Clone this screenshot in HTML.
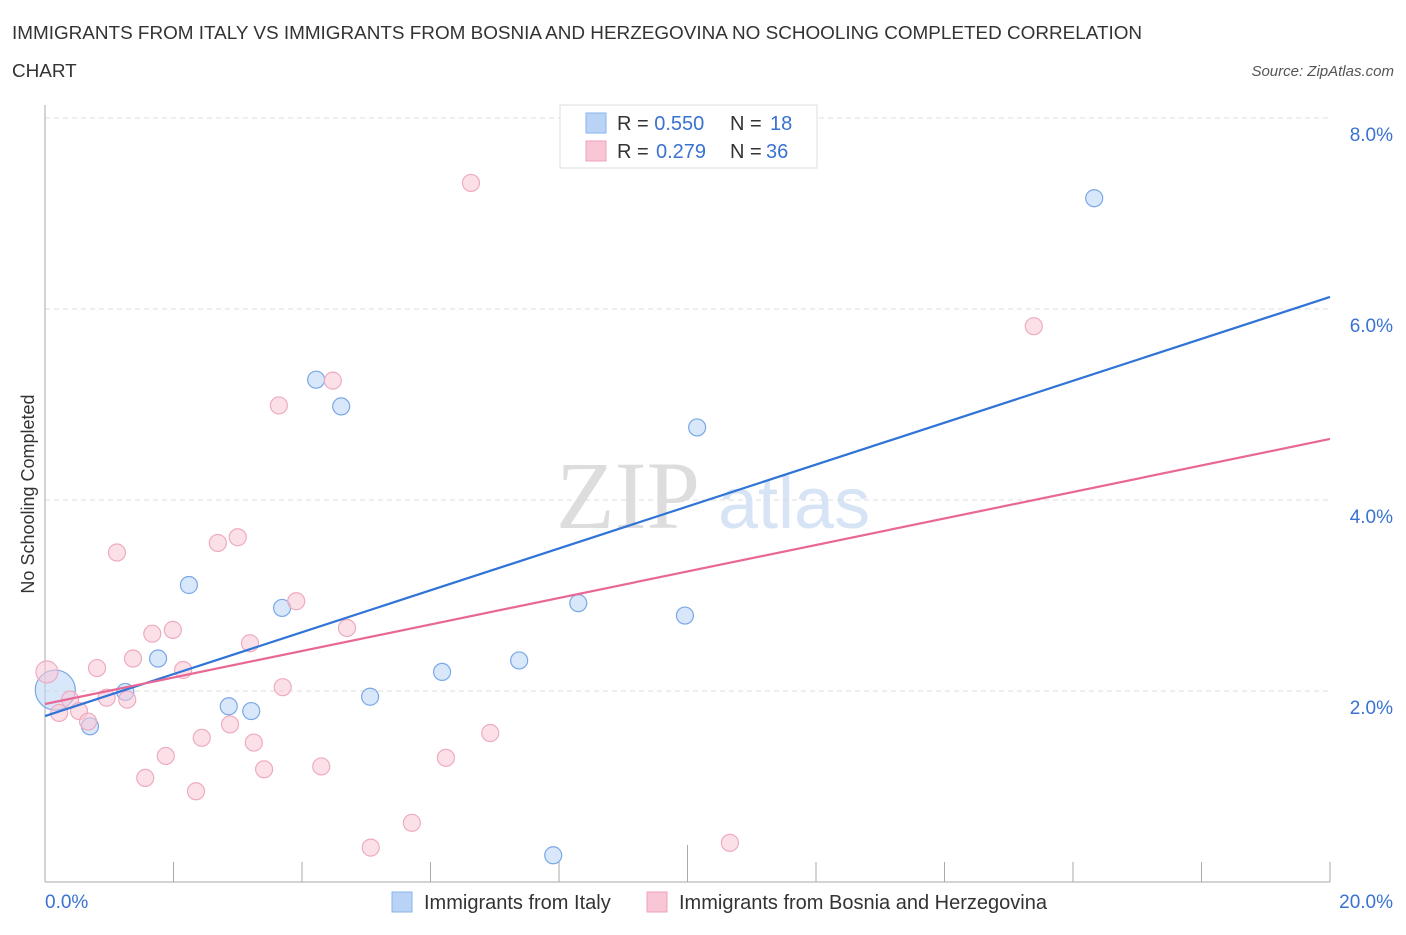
<!DOCTYPE html>
<html><head><meta charset="utf-8"><style>
body{margin:0;background:#fff;font-family:"Liberation Sans",sans-serif}
</style></head><body>
<svg width="1406" height="930" xmlns="http://www.w3.org/2000/svg" id="c">
<text x="12" y="39" font-size="18.9" fill="#333">IMMIGRANTS FROM ITALY VS IMMIGRANTS FROM BOSNIA AND HERZEGOVINA NO SCHOOLING COMPLETED CORRELATION</text>
<text x="12" y="77" font-size="18.9" fill="#333">CHART</text>
<text x="1394" y="76" font-size="15" fill="#555" font-style="italic" text-anchor="end">Source: ZipAtlas.com</text>
<text x="700" y="528" font-size="96" fill="#ddd" font-family="Liberation Serif" text-anchor="end">ZIP</text>
<text x="718" y="528" font-size="72" fill="#d6e4f5">atlas</text>
<text x="34" y="494" font-size="18" fill="#333" text-anchor="middle" transform="rotate(-90 34 494)">No Schooling Completed</text>
<g id="grid"></g><g id="pts"></g><g id="lines"></g>
<g>
<rect x="560" y="105" width="257" height="63" fill="#fff" stroke="#ddd"/>
<rect x="586" y="113" width="20" height="20" fill="#b9d3f6" stroke="#8ab4ea"/>
<rect x="586" y="141" width="20" height="20" fill="#f9c6d5" stroke="#eea3bb"/>
<text x="617" y="130" font-size="20" fill="#333">R = <tspan fill="#3a72d0">0.550</tspan><tspan x="730">N = </tspan><tspan x="770" fill="#3a72d0">18</tspan></text>
<text x="617" y="158" font-size="20" fill="#333">R = <tspan x="656" fill="#3a72d0">0.279</tspan><tspan x="730">N = </tspan><tspan x="766" fill="#3a72d0">36</tspan></text>
</g>
<g>
<rect x="392" y="892" width="20" height="20" fill="#b9d3f6" stroke="#8ab4ea"/>
<text x="424" y="909" font-size="20" fill="#333">Immigrants from Italy</text>
<rect x="647" y="892" width="20" height="20" fill="#f9c6d5" stroke="#eea3bb"/>
<text x="679" y="909" font-size="20" fill="#333">Immigrants from Bosnia and Herzegovina</text>
</g>
</svg>
<script>
const italyX=[0.16,0.70,1.25,1.76,2.24,2.86,3.21,3.69,4.22,4.61,5.06,6.18,7.38,8.30,9.96,10.15,7.91,16.33];
const italyY=[2.01,1.63,1.99,2.34,3.11,1.84,1.79,2.87,5.26,4.98,1.94,2.20,2.32,2.92,2.79,4.76,0.28,7.16];
const bosniaX=[0.03,0.22,0.39,0.53,0.67,0.81,0.96,1.12,1.28,1.37,1.56,1.67,1.88,1.99,2.15,2.35,2.44,2.69,2.88,3.00,3.19,3.25,3.41,3.64,3.70,3.91,4.30,4.48,4.70,5.07,5.71,6.24,6.63,6.93,10.66,15.39];
const bosniaY=[2.20,1.77,1.91,1.79,1.68,2.24,1.93,3.45,1.91,2.34,1.09,2.60,1.32,2.64,2.22,0.95,1.51,3.55,1.65,3.61,2.50,1.46,1.18,4.99,2.04,2.94,1.21,5.25,2.66,0.36,0.62,1.30,7.32,1.56,0.41,5.82];
const italyTrend=[1.738,6.126];
const bosniaTrend=[1.864,4.639];
const yTicks=[2,4,6,8];
const yTickLabels=["2.0%","4.0%","6.0%","8.0%"];
const xTicks=[0,2,4,6,8,10,12,14,16,18,20];
const NS="http://www.w3.org/2000/svg";
const sx=v=>45+v/20*1285, sy=v=>882-v*95.5;
function mk(t,a,p){const e=document.createElementNS(NS,t);for(const k in a)e.setAttribute(k,a[k]);p.appendChild(e);return e;}
const g=document.getElementById('grid');
yTicks.forEach((t,i)=>{
 const l=mk('line',{x1:45,x2:1330,y1:sy(t),y2:sy(t),stroke:'#ddd','stroke-dasharray':'5,4'},g);
 
 
 const tx=mk('text',{x:1393,y:sy(t)+23,'font-size':19,fill:'#3a72d0','text-anchor':'end'},g);
 tx.textContent=yTickLabels[i];
 
 
});
const ax=mk('line',{x1:45,x2:45,y1:105,y2:882,stroke:'#aaa'},g);


const bx=mk('line',{x1:45,x2:1330,y1:882,y2:882,stroke:'#aaa'},g);


xTicks.forEach(t=>{
 const l=mk('line',{x1:sx(t),x2:sx(t),y1:862,y2:882,stroke:'#aaa'},g);
 if(t==10)l.setAttribute('y1',845);
 
 
});
const xl=mk('text',{x:45,y:908,'font-size':19,fill:'#3a72d0'},g);xl.textContent='0.0%';


const xr=mk('text',{x:1393,y:908,'font-size':19,fill:'#3a72d0','text-anchor':'end'},g);xr.textContent='20.0%';


const p=document.getElementById('pts');
italyX.forEach((x,i)=>{
 const c=mk('circle',{cx:sx(x),cy:sy(italyY[i]),r:i==0?20:8.5,fill:'rgba(185,211,246,0.55)',stroke:'#7aa8e6','stroke-width':1.2},p);
 
 
});
bosniaX.forEach((x,i)=>{
 const c=mk('circle',{cx:sx(x),cy:sy(bosniaY[i]),r:i==0?11:8.5,fill:'rgba(249,198,213,0.55)',stroke:'#eeabc0','stroke-width':1.2},p);
 
 
});
const L=document.getElementById('lines');
const l1=mk('line',{x1:sx(0),y1:sy(italyTrend[0]),x2:sx(20),y2:sy(italyTrend[1]),stroke:'#2f74d6','stroke-width':2.2},L);


const l2=mk('line',{x1:sx(0),y1:sy(bosniaTrend[0]),x2:sx(20),y2:sy(bosniaTrend[1]),stroke:'#e86794','stroke-width':2.2},L);


</script>
</body></html>
